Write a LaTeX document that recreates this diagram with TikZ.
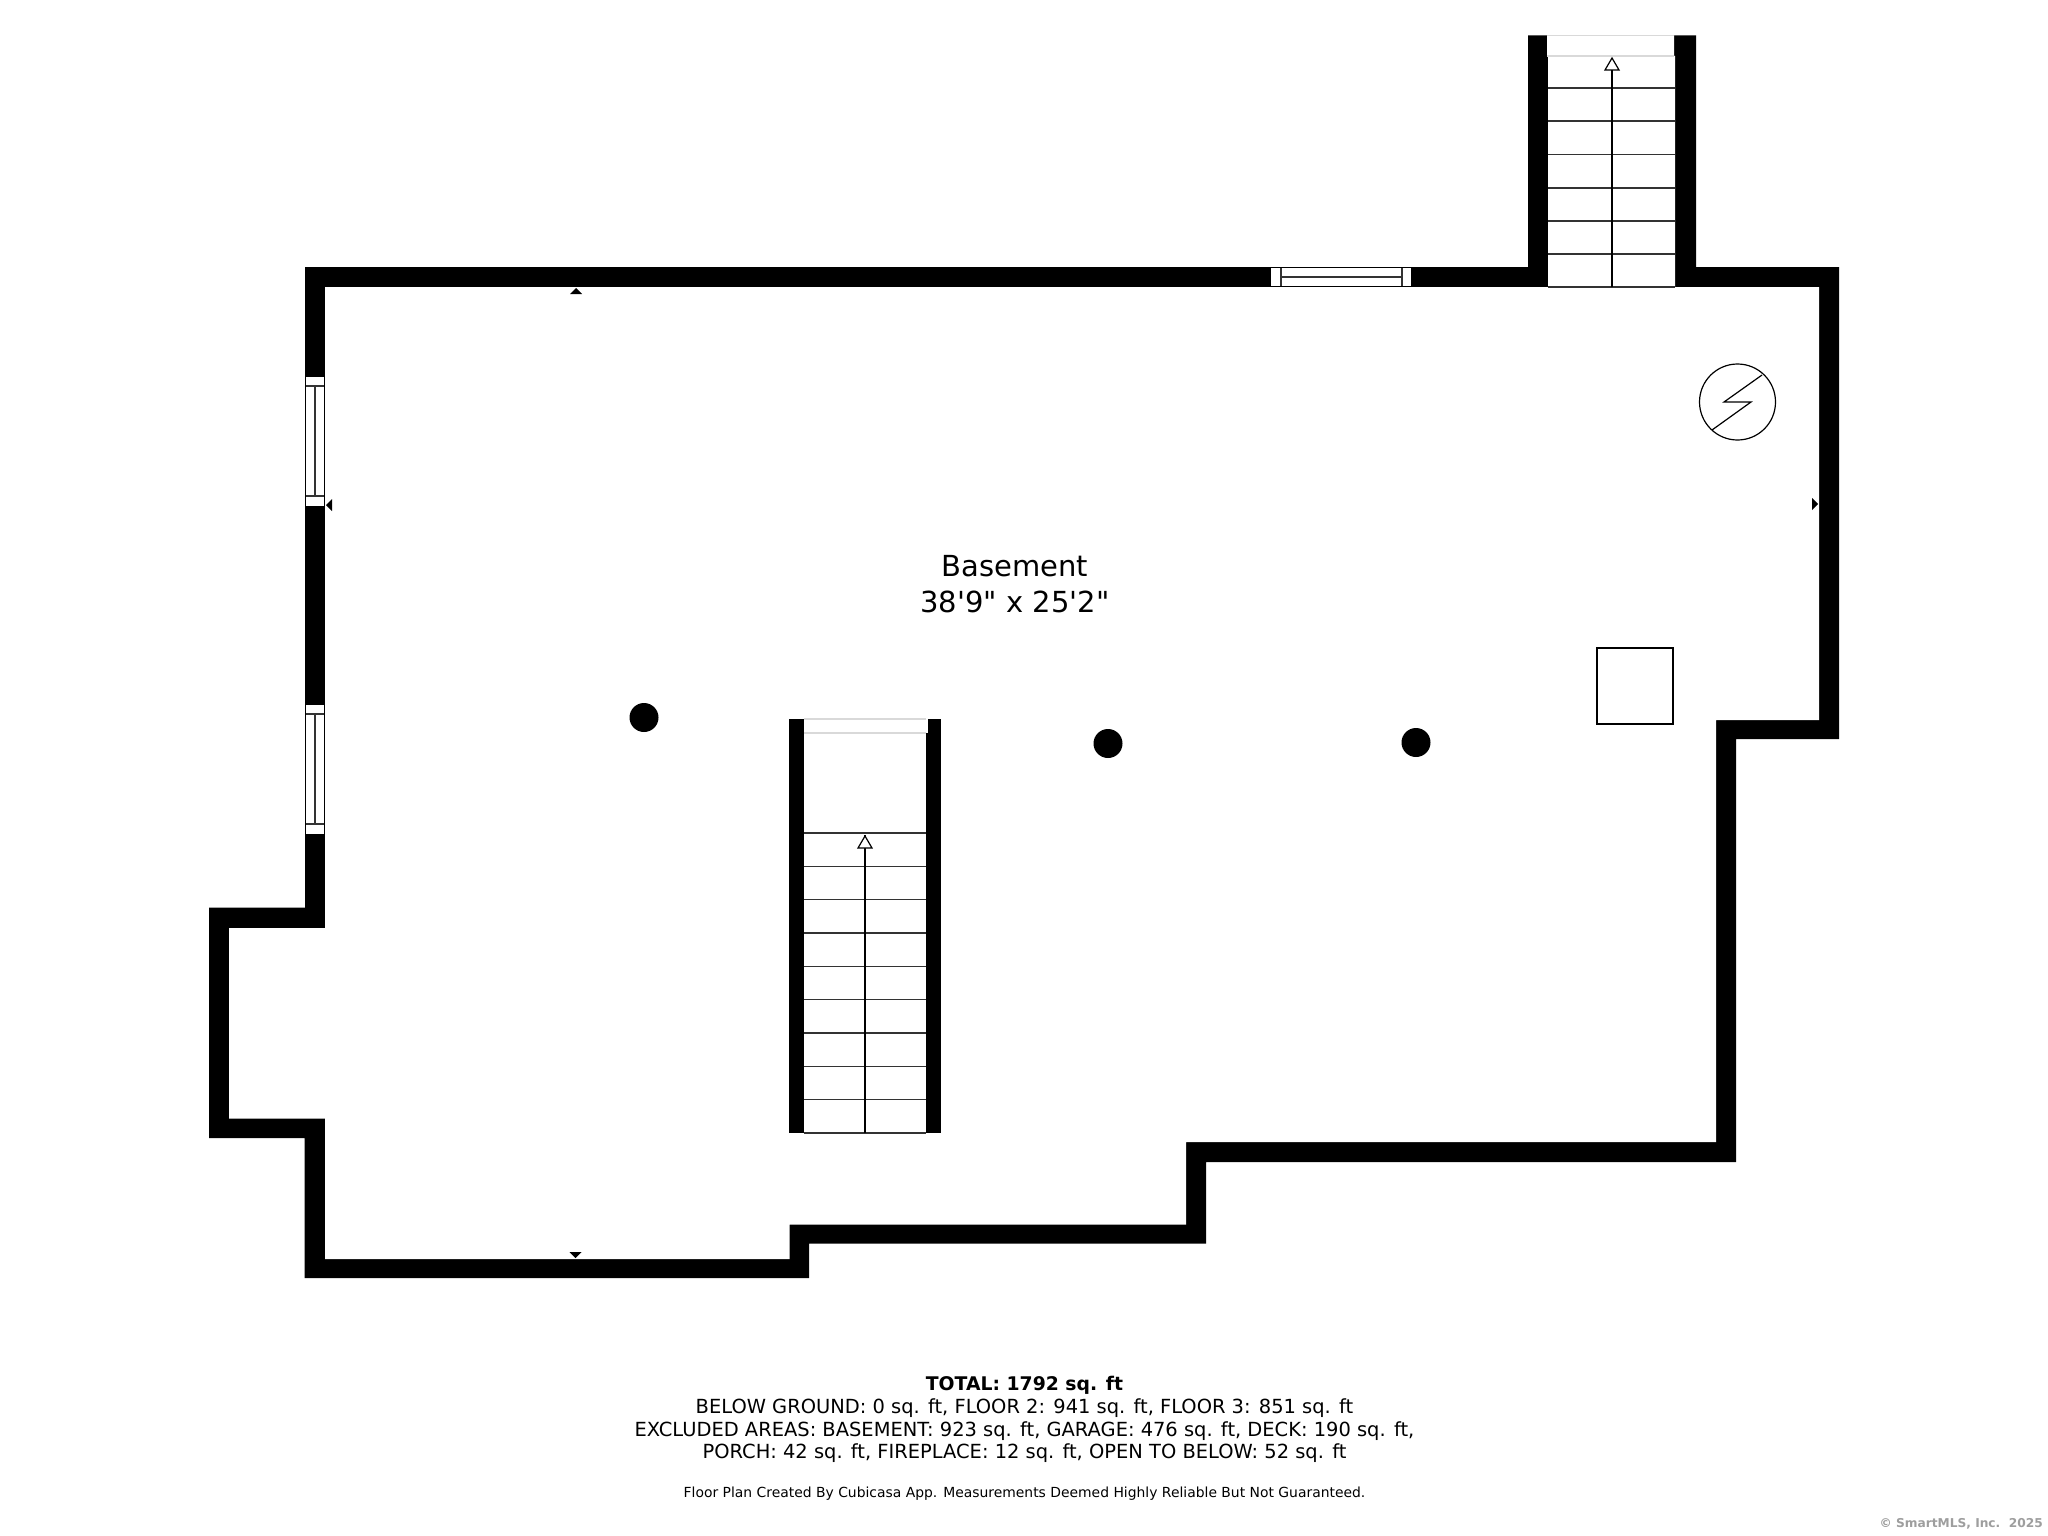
\documentclass[tikz,border=0pt]{standalone}
\usepackage{fontspec}
\setmainfont{DejaVu Sans}
\newfontfamily\rawfont{DejaVu Sans}
\tikzset{
  x=1pt,y=-1pt,
  thinline/.style={draw=black,line width=1.2pt},
  wini/.style={draw=black!80,line width=1.3pt},
  framew/.style={fill=white,draw=none},
  capline/.style={draw=black!15,line width=1.2pt},
  mark tri/.style={fill=black,draw=none},
  columnpt/.style={fill=black,draw=none},
  lbl/.style={inner sep=0pt,align=center,font=\rawfont\fontsize{29}{35.5}\selectfont},
  foot/.style={inner sep=0pt,font=\fontsize{19.45}{23}\selectfont},
  footb/.style={inner sep=0pt,font=\fontsize{18.8}{23}\selectfont\bfseries},
  footsmall/.style={inner sep=0pt,font=\fontsize{13.9}{17}\selectfont},
  copyr/.style={inner sep=0pt,text=black!38,font=\fontsize{12.2}{14}\selectfont\bfseries}
}
\begin{document}
\begin{tikzpicture}
\useasboundingbox (0,0) rectangle (2048,1536);
\fill[white] (0,0) rectangle (2048,1536);
% walls
\fill[black] (305,267)--(1528,267)--(1528,35.5)--(1696,35.5)--(1696,267)--(1839,267)--(1839,739)--(1736,739)--(1736,1162)--(1206,1162)--(1206,1243.5)--(809,1243.5)--(809,1278)--(304.5,1278)--(304.5,1138)--(209,1138)--(209,907.5)--(305,907.5)--cycle;
\fill[white] (325,287)--(1548,287)--(1548,56)--(1547,56)--(1547,35)--(1674,35)--(1674,56)--(1675,56)--(1675,287)--(1819,287)--(1819,720)--(1716,720)--(1716,1142)--(1186,1142)--(1186,1224.5)--(789.5,1224.5)--(789.5,1259)--(325,1259)--(325,1118.5)--(229,1118.5)--(229,928)--(325,928)--cycle;
% stair 1 (top right)
\draw[capline] (1547,35.5)--(1674,35.5);
\draw[capline] (1547,56)--(1674,56);
\foreach \yy in {88,121,154.5,188,221,254,287}{\draw[wini] (1548,\yy)--(1675,\yy);}
\draw[thinline] (1612,287)--(1612,58);
\draw[thinline,fill=white,line join=miter] (1612,58)--(1619,70)--(1605,70)--cycle;
% interior stair
\fill[black] (789,719) rectangle (804,1133);
\fill[black] (928,719) rectangle (941,1133);
\fill[black] (926,733) rectangle (930,1133);
\draw[capline] (804,719)--(926,719);
\draw[capline] (804,733)--(926,733);
\foreach \yy in {833,866.3,899.6,933,966.3,999.6,1033,1066.3,1099.6,1133}{\draw[wini] (804,\yy)--(926,\yy);}
\draw[thinline] (865,1133)--(865,835);
\draw[thinline,fill=white,line join=miter] (865,836)--(872,848)--(858,848)--cycle;
% left windows
\fill[framew] (305,377) rectangle (325,506);
\draw[wini] (305.5,386)--(324.5,386) (305.5,496)--(324.5,496) (315,386)--(315,496);
\draw[thinline] (305.5,377)--(305.5,506) (324.5,377)--(324.5,506);
\fill[framew] (305,705) rectangle (325,834);
\draw[wini] (305.5,714)--(324.5,714) (305.5,824)--(324.5,824) (315,714)--(315,824);
\draw[thinline] (305.5,705)--(305.5,834) (324.5,705)--(324.5,834);
% top window
\fill[framew] (1271,267) rectangle (1411,287);
\draw[wini] (1281,267.5)--(1281,286.5) (1402,267.5)--(1402,286.5) (1281,277)--(1402,277);
\draw[thinline] (1271,267.5)--(1411,267.5) (1271,286.5)--(1411,286.5);
% dimension ticks
\fill[mark tri] (576,288)--(582,294)--(570,294)--cycle;
\fill[mark tri] (575.5,1258)--(581.5,1252)--(569.5,1252)--cycle;
\fill[mark tri] (326,505)--(332,499)--(332,511)--cycle;
\fill[mark tri] (1818,504)--(1812,498)--(1812,510)--cycle;
% columns
\fill[columnpt] (644,717.5) circle (14.5);
\fill[columnpt] (1108,743.5) circle (14.5);
\fill[columnpt] (1416,742.5) circle (14.5);
% square
\draw[thinline] (1597,648) rectangle (1673,724);
% electrical
\draw[thinline] (1737.5,402) circle (38);
\draw[thinline,line join=miter] (1762,375)--(1724,402)--(1751,402)--(1712,430);
% texts
\node[lbl] (room) at (1015,584) {Basement\\38'9" x 25'2"};
\node[footb] (t1) at (1024.5,1385.5) {TOTAL: 1792 sq. ft};
\node[foot] (t2) at (1024.5,1408) {BELOW GROUND: 0 sq. ft, FLOOR 2: 941 sq. ft, FLOOR 3: 851 sq. ft};
\node[foot] (t3) at (1024.5,1431) {EXCLUDED AREAS: BASEMENT: 923 sq. ft, GARAGE: 476 sq. ft, DECK: 190 sq. ft,};
\node[foot] (t4) at (1024.5,1453) {PORCH: 42 sq. ft, FIREPLACE: 12 sq. ft, OPEN TO BELOW: 52 sq. ft};
\node[footsmall] (t5) at (1024.5,1494) {Floor Plan Created By Cubicasa App. Measurements Deemed Highly Reliable But Not Guaranteed.};
\node[copyr,anchor=east] (t6) at (2043,1524) {© SmartMLS, Inc.\ \ 2025};
\end{tikzpicture}
\end{document}
